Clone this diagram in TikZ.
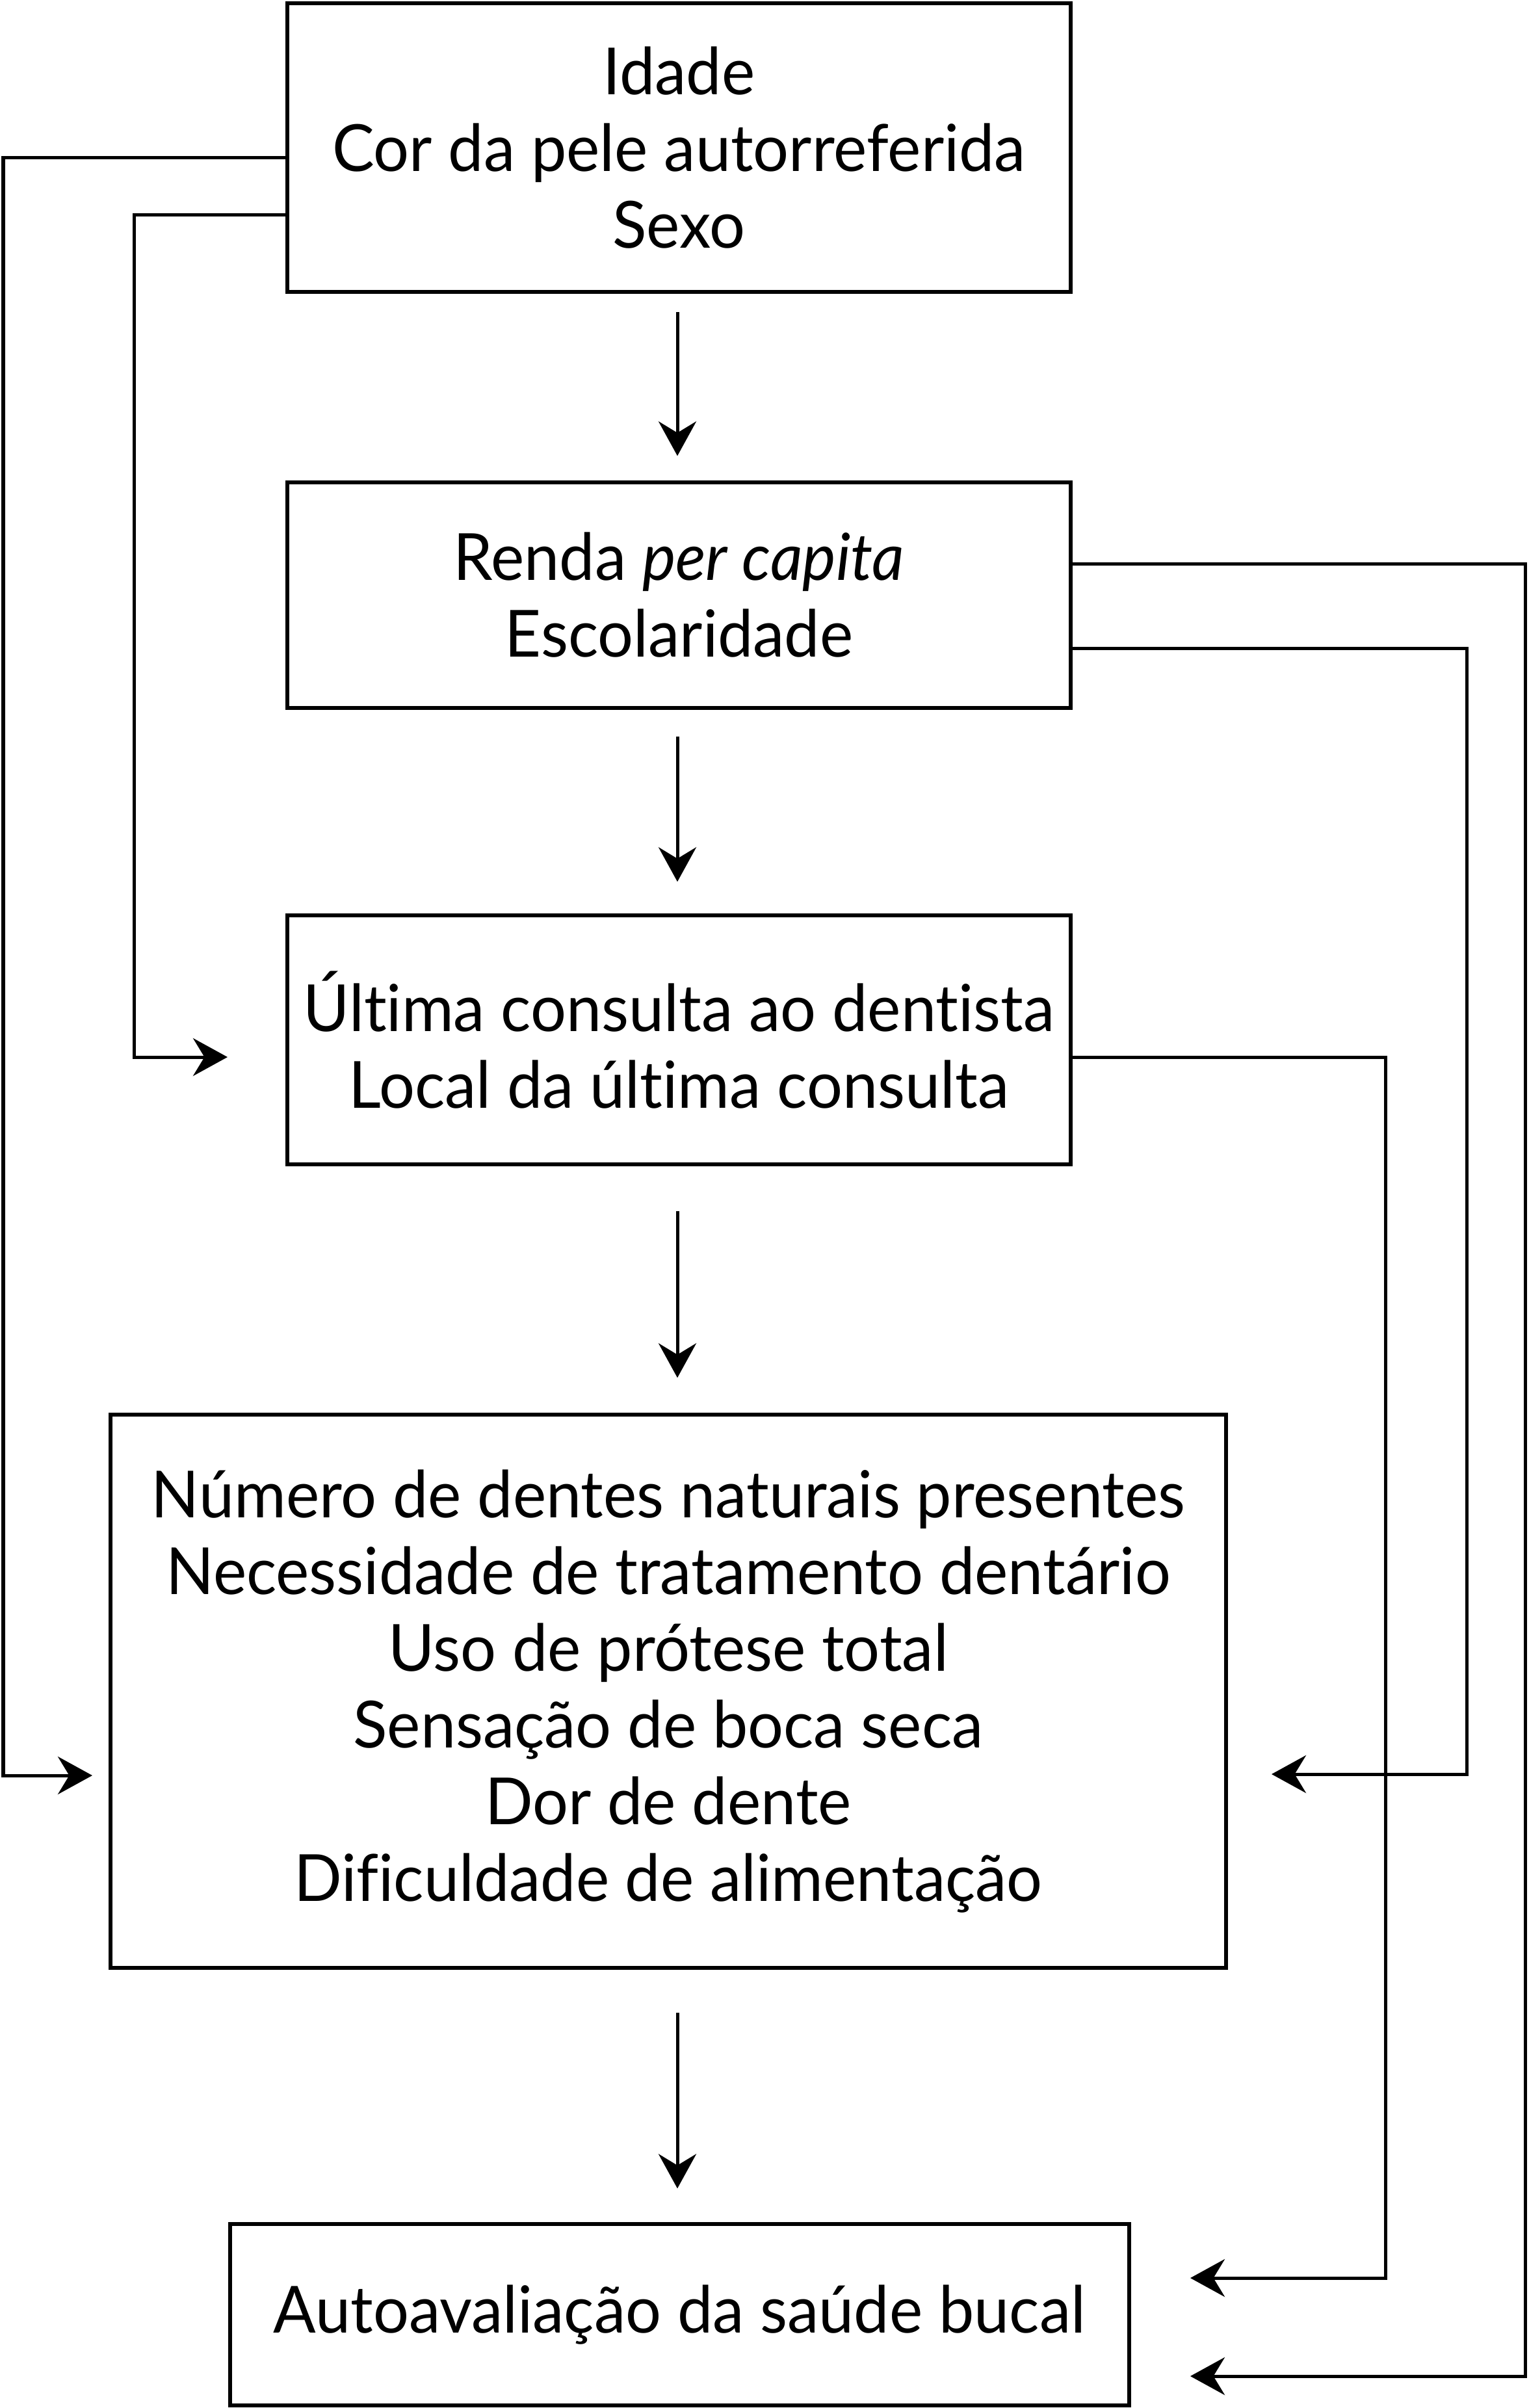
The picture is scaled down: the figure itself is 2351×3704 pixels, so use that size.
\documentclass[tikz,border=0pt]{standalone}
\usepackage{fontspec}
\setmainfont[FakeStretch=0.97, Ligatures=NoCommon]{Lato}
\usetikzlibrary{arrows.meta}
\tikzset{
  box/.style={draw, line width=1.1pt, align=center, inner sep=0pt,
    font=\fontsize{20}{23.6}\selectfont},
  conn/.style={line width=1pt},
  arr/.style={conn, -{Stealth[length=10.6pt, width=11.6pt, inset=3.5pt]}},
}
\begin{document}
\begin{tikzpicture}[x=0.2pt, y=-0.2pt]
\useasboundingbox (0,0) rectangle (2351,3704);
\node[box, minimum width=241pt, minimum height=88.8pt] (box1) at (1044.5,227)
  {Idade\\Cor da pele autorreferida\\Sexo};
\node[box, minimum width=241pt, minimum height=69.4pt] (box2) at (1044.5,915.5)
  {Renda \textit{per capita}\\Escolaridade};
\node[box, minimum width=241pt, minimum height=76.6pt] (box3) at (1044.5,1599.5)
  {Última consulta ao dentista\\Local da última consulta};
\node[box, minimum width=343.2pt, minimum height=170.2pt] (box4) at (1028,2601.5)
  {Número de dentes naturais presentes\\Necessidade de tratamento dentário\\Uso de prótese total\\Sensação de boca seca\\Dor de dente\\Dificuldade de alimentação};
\node[box, minimum width=276.6pt, minimum height=55.8pt] (box5) at (1045.5,3560.5)
  {Autoavaliação da saúde bucal};
% free arrow ends
\coordinate (e4l) at (142,2731);
\coordinate (e3l) at (350,1626);
\coordinate (e5b) at (1831,3655);
\coordinate (e4r) at (1956,2729);
\coordinate (e5a) at (1831,3504);
% vertical arrows
\draw[arr, shorten <=5.6pt, shorten >=7.6pt] (box1.south -| 1042,0) -- (box2.north -| 1042,0);
\draw[arr, shorten <=8.2pt, shorten >=9.8pt] (box2.south -| 1042,0) -- (box3.north -| 1042,0);
\draw[arr, shorten <=13.8pt, shorten >=10.8pt] (box3.south -| 1042,0) -- (box4.north -| 1042,0);
\draw[arr, shorten <=13.2pt, shorten >=10.4pt] (box4.south -| 1042,0) -- (box5.north -| 1042,0);
% left connectors
\draw[arr] (box1.west |- 0,243) -- (5,243) |- (e4l);
\draw[arr] (box1.west |- 0,331) -- (206,331) |- (e3l);
% right connectors
\draw[arr] (box2.east |- 0,867) -- (2346,867) |- (e5b);
\draw[arr] (box2.east |- 0,997) -- (2256,997) |- (e4r);
\draw[arr] (box3.east |- 0,1626) -- (2131,1626) |- (e5a);
\end{tikzpicture}
\end{document}
